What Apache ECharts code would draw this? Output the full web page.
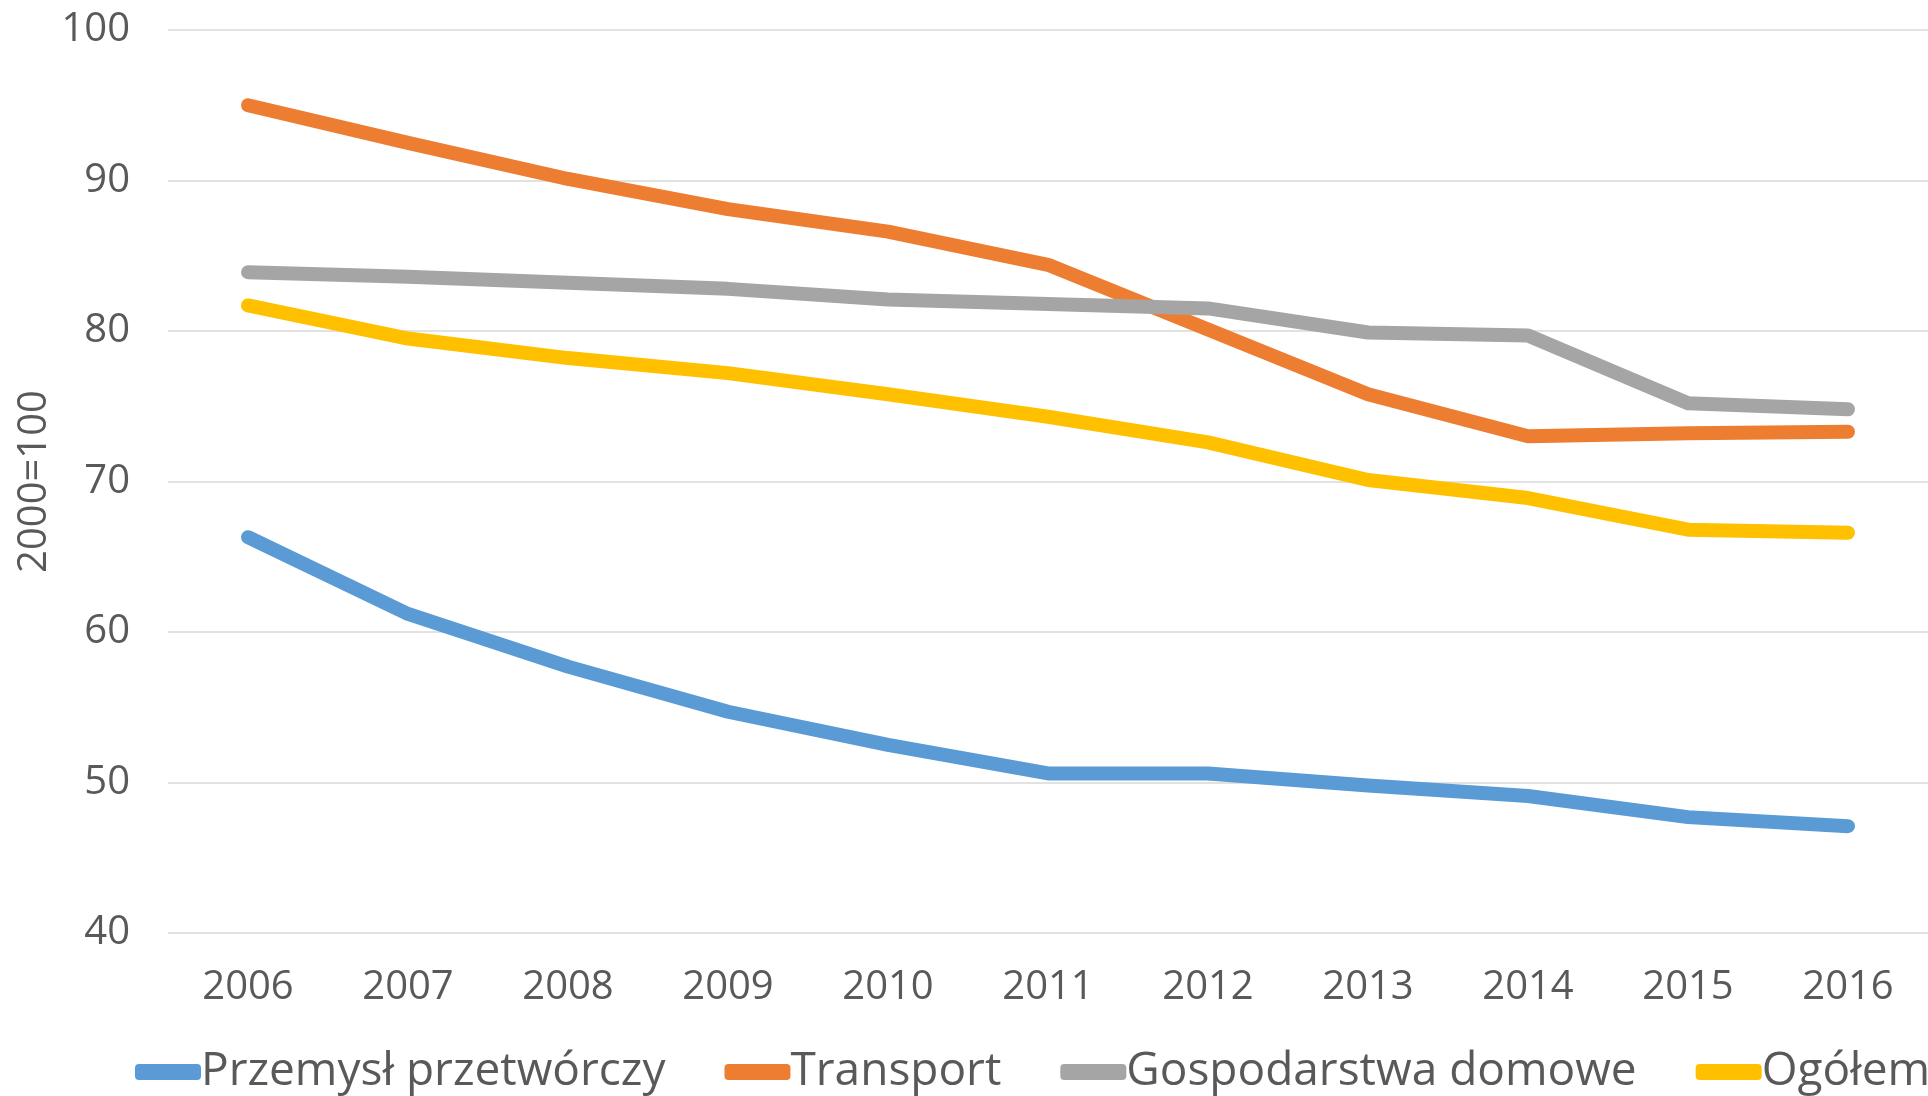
<!DOCTYPE html>
<html lang="pl">
<head>
  <meta charset="UTF-8">
  <title>Wskaźniki 2000=100</title>
  <script src="https://cdn.jsdelivr.net/npm/echarts@6/dist/echarts.min.js"></script>
</head>
<body style="margin:0;width:1928px;height:1096px;overflow:hidden;background:#fff;">
  <div id="main" style="width:1928px;height:1096px;"></div>
<script>
  // dane
  var lata = ['2006', '2007', '2008', '2009', '2010', '2011', '2012', '2013', '2014', '2015', '2016'];
  var przemysl = [66.3, 61.2, 57.7, 54.7, 52.5, 50.6, 50.6, 49.8, 49.1, 47.7, 47.1];
  var transport = [95.0, 92.5, 90.1, 88.1, 86.6, 84.4, 80.1, 75.8, 73.0, 73.2, 73.3];
  var gospodarstwa = [83.9, 83.6, 83.2, 82.8, 82.1, 81.8, 81.5, 79.9, 79.7, 75.2, 74.8];
  var ogolem = [81.7, 79.5, 78.2, 77.2, 75.8, 74.3, 72.6, 70.1, 68.9, 66.8, 66.6];

  var kolory = ['#5B9BD5', '#ED7D31', '#A5A5A5', '#FFC000'];
  var font = 'Open Sans';

  var myChart = echarts.init(document.getElementById('main'));

  function seria(nazwa, dane) {
    return {
      name: nazwa,
      type: 'line',
      data: dane,
      symbol: 'none',
      showSymbol: false,
      lineStyle: { width: 14, cap: 'round', join: 'round' },
      emphasis: { disabled: true }
    };
  }

  var option = {
    animation: false,
    color: kolory,
    grid: { left: 168, right: -5, top: 30, bottom: 163 },
    legend: {
      left: 130,
      top: 1044,
      width: 2600,
      icon: 'roundRect',
      itemWidth: 66,
      itemHeight: 16,
      itemGap: 59,
      textStyle: { fontFamily: font, fontSize: 46, color: '#595959', padding: [0, 0, 0, -5] },
      data: ['Przemysł przetwórczy', 'Transport', 'Gospodarstwa domowe', 'Ogółem']
    },
    xAxis: {
      type: 'category',
      data: lata,
      boundaryGap: true,
      axisLine: { show: false },
      axisTick: { show: false },
      axisLabel: { fontFamily: font, fontSize: 40, color: '#595959', margin: 35 }
    },
    yAxis: {
      type: 'value',
      min: 40,
      max: 100,
      interval: 10,
      name: '2000=100',
      nameLocation: 'middle',
      nameGap: 113,
      nameMoveOverlap: false,
      nameRotate: 90,
      nameTextStyle: { fontFamily: font, fontSize: 40, color: '#595959' },
      axisLine: { show: false },
      axisTick: { show: false },
      axisLabel: { fontFamily: font, fontSize: 40, color: '#595959', margin: 38 },
      splitLine: { lineStyle: { color: '#D9D9D9', width: 1.5 } }
    },
    series: [
      seria('Przemysł przetwórczy', przemysl),
      seria('Transport', transport),
      seria('Gospodarstwa domowe', gospodarstwa),
      seria('Ogółem', ogolem)
    ]
  };

  myChart.setOption(option);
</script>
</body>
</html>
